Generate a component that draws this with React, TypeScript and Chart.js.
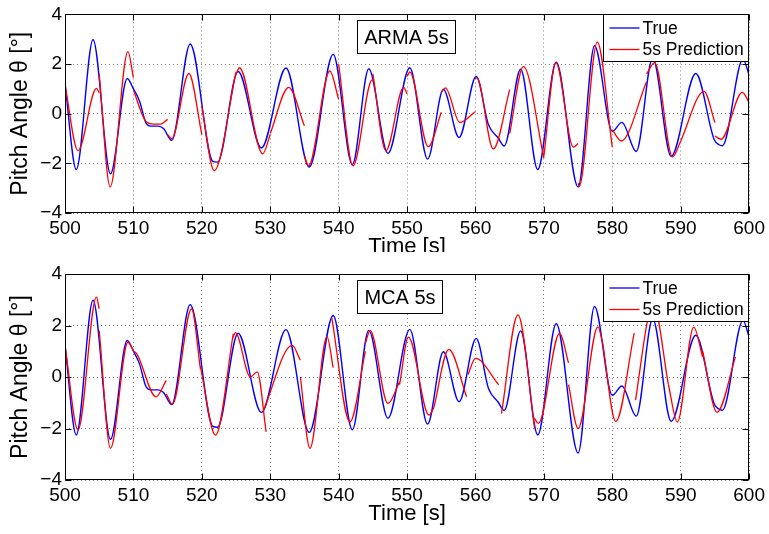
import { useEffect, useRef } from 'react';
import { Chart, registerables } from 'chart.js';

Chart.register(...registerables);

const FONT = "'Liberation Sans', Arial, Helvetica, sans-serif";

// ---- tick labels ----
const xTicks = [500, 510, 520, 530, 540, 550, 560, 570, 580, 590, 600];
const yTicks = [-4, -2, 0, 2, 4];

// ---- true pitch angle (same in both panels) ----
const trueTime = [
  500, 501.65, 504.1, 506.65, 509.1, 510.0, 510.9, 511.8, 512.5, 513.6, 514.4, 515.6,
  518.3, 521.6, 522.3, 525.3, 528.7, 532.3, 535.7, 539.2, 542.0, 544.4, 547.2, 550.4,
  553.0, 555.3, 557.6, 560.1, 561.9, 563.3, 564.2, 566.6, 569.1, 571.8, 575.0, 577.4,
  580.0, 581.4, 583.5, 585.9, 588.6, 592.2, 594.9, 595.6, 596.1, 599.1, 600,
];
const trueValues = [
  1.2, -2.25, 2.98, -2.42, 1.42, 1.0, 0.5, -0.35, -0.5, -0.5, -0.6, -1.07,
  2.81, -1.92, -1.95, 1.7, -1.38, 1.84, -2.15, 2.39, -2.05, 1.81, -1.6, 1.85,
  -1.83, 0.98, -0.96, 1.5, -0.45, -0.97, -1.3, 1.79, -2.25, 2.07, -2.95, 2.74,
  -0.71, -0.35, -1.52, 2.25, -1.72, 1.62, -1.05, -1.25, -1.29, 2.2, 1.55,
];

// ---- ARMA 5 s prediction segments ----
const armaTimes = [
  [500, 501.9, 504.6, 505],
  [505, 506.6, 509.2, 510],
  [510, 511.8, 513.0, 514.0, 515],
  [515, 515.6, 518.1, 520],
  [520, 521.8, 525],
  [525, 525.5, 528.9, 530],
  [530, 532.7, 535],
  [535, 535.6, 538.7, 540],
  [540, 542.1, 544.9, 545],
  [545, 546.9, 549.5, 550],
  [550, 550.4, 553.1, 555],
  [555, 555.6, 557.7, 560],
  [560, 560.2, 562.6, 565],
  [565, 567, 570],
  [570, 571.75, 574.3, 575],
  [575, 575.15, 577.8, 580],
  [580, 581.3, 585],
  [585, 586.2, 588.8, 590],
  [590, 593.4, 595],
  [595, 595.9, 599, 600],
];
const armaValues = [
  [1.17, -1.49, 1.02, 0.84],
  [1.6, -2.95, 2.5, 1.45],
  [0.95, -0.3, -0.42, -0.42, -0.23],
  [-0.85, -1.0, 1.62, -0.84],
  [0.3, -2.29, 1.68],
  [1.6, 1.85, -1.62, -0.84],
  [-0.8, 1.06, -0.49],
  [-1.7, -2.1, 1.72, 0.58],
  [2.0, -2.1, 1.36, 1.33],
  [1.6, -1.49, 1.06, 0.8],
  [1.5, 1.68, -1.33, 0.06],
  [0.85, 1.04, -0.35, 0.09],
  [1.4, 1.45, -1.42, 0.97],
  [-0.8, 1.9, -1.79],
  [-1.7, 2.06, -1.35, -1.2],
  [-2.8, -2.93, 2.88, -1.35],
  [-0.65, -1.1, 1.29],
  [1.6, 2.06, -1.74, -1.1],
  [-1.1, 0.9, -0.36],
  [-0.9, -1.03, 0.86, 0.45],
];

// ---- MCA 5 s prediction segments ----
const mcaTimes = [
  [500, 501.9, 504.6, 505],
  [505, 506.65, 509.2, 510],
  [510, 510.5, 513.3, 514.8],
  [514.8, 515.7, 518.5, 519.8],
  [519.8, 522.0, 524.6],
  [524.5, 524.9, 527.1, 528.1, 529.4],
  [529.0, 533.2, 534.4],
  [534.4, 535.8, 538.3, 539.2],
  [539.0, 541.65, 543.9],
  [543.9, 544.6, 547.2, 548.9],
  [548.9, 550.2, 553.2, 553.9],
  [553.9, 556.1, 558.7],
  [558.9, 560.0, 563.4],
  [563.8, 566.2, 568.65],
  [568.6, 569.2, 572.3, 573.6],
  [573.6, 575.0, 577.9, 578.6],
  [578.6, 580.5, 583.2],
  [583.4, 585.4, 586.0, 588.2],
  [588.2, 589.5, 591.9, 593.2],
  [593.2, 595.3, 598.0],
];
const mcaValues = [
  [1.25, -2.06, 3.1, 2.65],
  [1.8, -2.77, 1.35, 1.03],
  [1.0, 0.9, -0.77, -0.13],
  [-0.65, -1.06, 2.65, 0.3],
  [0.4, -2.26, 1.68],
  [1.5, 1.72, 0.0, 0.2, -2.13],
  [-1.3, 1.23, 0.65],
  [0.0, -2.77, 1.57, 0.36],
  [2.3, -1.74, 1.0],
  [1.3, 1.81, -1.03, -0.19],
  [-0.3, 1.55, -1.48, -1.2],
  [-1.2, 1.07, -0.77],
  [0.1, 0.72, -0.3],
  [-1.42, 2.41, -2.0],
  [-1.6, -1.8, 1.7, 0.55],
  [-0.3, -2.0, 1.95, 1.3],
  [1.3, -1.73, 1.7],
  [-0.9, 2.54, 2.8, -0.3],
  [-0.3, -1.75, 1.94, 0.78],
  [1.0, -1.37, 0.78],
];

type Pt = { x: number; y: number | null };

function toPoints(times: number[], values: number[]): Pt[] {
  return times.map((t, i) => ({ x: t, y: values[i] }));
}

function toSegments(times: number[][], values: number[][]): Pt[] {
  const out: Pt[] = [];
  times.forEach((seg, s) => {
    seg.forEach((t, i) => out.push({ x: t, y: values[s][i] }));
    out.push({ x: seg[seg.length - 1], y: null });
  });
  return out;
}

type Panel = {
  title: string;
  predTimes: number[][];
  predValues: number[][];
  areaTop: number;
  xAxisH: number;
  titlePad: number;
};

function makeChart(canvas: HTMLCanvasElement, p: Panel) {
  const decor = {
    id: 'decor',
    afterDraw(chart: any) {
      const { ctx, chartArea: a } = chart;
      const xs = chart.scales.x;
      const ys = chart.scales.y;
      const L = Math.round(a.left) + 0.5;
      const R = Math.round(a.right) - 0.5;
      const T = Math.round(a.top) + 0.5;
      const B = Math.round(a.bottom) - 0.5;
      ctx.save();
      ctx.setLineDash([]);
      ctx.strokeStyle = '#000';
      ctx.lineWidth = 1;
      ctx.beginPath();
      for (const t of xTicks) {
        const px = Math.round(xs.getPixelForValue(t)) + 0.5;
        ctx.moveTo(px, B);
        ctx.lineTo(px, B - 6);
        ctx.moveTo(px, T);
        ctx.lineTo(px, T + 6);
      }
      for (const v of yTicks) {
        const py = Math.round(ys.getPixelForValue(v)) + 0.5;
        ctx.moveTo(L, py);
        ctx.lineTo(L + 6, py);
        ctx.moveTo(R, py);
        ctx.lineTo(R - 6, py);
      }
      ctx.stroke();
      ctx.strokeRect(L, T, R - L, B - T);

      // title box
      ctx.font = `20px ${FONT}`;
      const tw = ctx.measureText(p.title).width;
      const bx = 357.5;
      const by = T + 6;
      const bw = Math.round(tw + 14);
      const bh = 33;
      ctx.fillStyle = '#fff';
      ctx.fillRect(bx, by, bw, bh);
      ctx.strokeRect(bx, by, bw, bh);
      ctx.fillStyle = '#000';
      ctx.textAlign = 'center';
      ctx.textBaseline = 'middle';
      ctx.fillText(p.title, bx + bw / 2, by + bh / 2 + 1);

      // legend
      const lw = 145;
      const lh = 47;
      const lx = R - lw;
      const ly = T;
      ctx.fillStyle = '#fff';
      ctx.fillRect(lx, ly, lw, lh);
      ctx.strokeRect(lx, ly, lw, lh);
      const entries = [
        { label: 'True', color: '#0000ff', y: ly + 13.5 },
        { label: '5s Prediction', color: '#ff0000', y: ly + 35 },
      ];
      ctx.font = `17.5px ${FONT}`;
      ctx.textAlign = 'left';
      for (const e of entries) {
        ctx.strokeStyle = e.color;
        ctx.lineWidth = 1.3;
        ctx.beginPath();
        ctx.moveTo(lx + 6, e.y);
        ctx.lineTo(lx + 36, e.y);
        ctx.stroke();
        ctx.fillStyle = '#000';
        ctx.fillText(e.label, lx + 39, e.y + 1);
      }
      ctx.restore();
    },
  };

  const tickFont = { family: FONT, size: 19 };
  const titleFont = { family: FONT, size: 22 };
  const yTitleFont = { family: FONT, size: 23 };

  return new Chart(canvas, {
    type: 'line',
    data: {
      datasets: [
        {
          label: '5s Prediction',
          data: toSegments(p.predTimes, p.predValues) as any,
          borderColor: '#ff0000',
          borderWidth: 1.3,
          spanGaps: false,
        },
        {
          label: 'True',
          data: toPoints(trueTime, trueValues) as any,
          borderColor: '#0000ff',
          borderWidth: 1.4,
        },
      ],
    },
    options: {
      responsive: false,
      animation: false,
      layout: { padding: { top: p.areaTop, right: 17, left: 0, bottom: 0 } },
      plugins: {
        legend: { display: false },
        tooltip: { enabled: false },
        title: { display: false },
      },
      elements: {
        point: { radius: 0 },
        line: { cubicInterpolationMode: 'monotone' },
      },
      scales: {
        x: {
          type: 'linear',
          min: 500,
          max: 600,
          afterBuildTicks: (s: any) => {
            s.ticks = xTicks.map((v) => ({ value: v }));
          },
          ticks: { font: tickFont, color: '#000', padding: 4, maxRotation: 0, autoSkip: false },
          grid: { color: 'rgba(0,0,0,0.5)', drawTicks: false, lineWidth: 1 },
          border: { display: false, dash: [1, 3] },
          title: {
            display: true,
            text: 'Time [s]',
            font: titleFont,
            color: '#000',
            padding: { top: 0, bottom: p.titlePad },
          },
          afterFit: (s: any) => {
            s.height = p.xAxisH;
          },
        },
        y: {
          type: 'linear',
          min: -4,
          max: 4,
          afterBuildTicks: (s: any) => {
            s.ticks = yTicks.map((v) => ({ value: v }));
          },
          ticks: {
            font: tickFont,
            color: '#000',
            padding: 3,
            callback: (v: any) => (Number(v) < 0 ? '\u2212' + Math.abs(Number(v)) : String(v)),
          },
          grid: { color: 'rgba(0,0,0,0.5)', drawTicks: false, lineWidth: 1 },
          border: { display: false, dash: [1, 3] },
          title: {
            display: true,
            text: 'Pitch Angle θ [°]',
            font: yTitleFont,
            color: '#000',
            padding: { top: 7, bottom: 0 },
          },
          afterFit: (s: any) => {
            s.width = 65;
          },
        },
      },
    } as any,
    plugins: [decor],
  });
}

export default function App() {
  const topRef = useRef<HTMLCanvasElement>(null);
  const botRef = useRef<HTMLCanvasElement>(null);

  useEffect(() => {
    const c1 = makeChart(topRef.current!, {
      title: 'ARMA 5s',
      predTimes: armaTimes,
      predValues: armaValues,
      areaTop: 7,
      xAxisH: 49,
      titlePad: 2,
    });
    const c2 = makeChart(botRef.current!, {
      title: 'MCA 5s',
      predTimes: mcaTimes,
      predValues: mcaValues,
      areaTop: 22,
      xAxisH: 54,
      titlePad: 7,
    });
    return () => {
      c1.destroy();
      c2.destroy();
    };
  }, []);

  return (
    <div style={{ position: 'absolute', left: 0, top: 0, width: 769, height: 534, background: '#fff' }}>
      <canvas
        ref={topRef}
        width={769}
        height={262}
        style={{ position: 'absolute', left: 0, top: 0, width: 769, height: 262 }}
      />
      <canvas
        ref={botRef}
        width={769}
        height={282}
        style={{ position: 'absolute', left: 0, top: 252, width: 769, height: 282, background: '#fff' }}
      />
    </div>
  );
}
